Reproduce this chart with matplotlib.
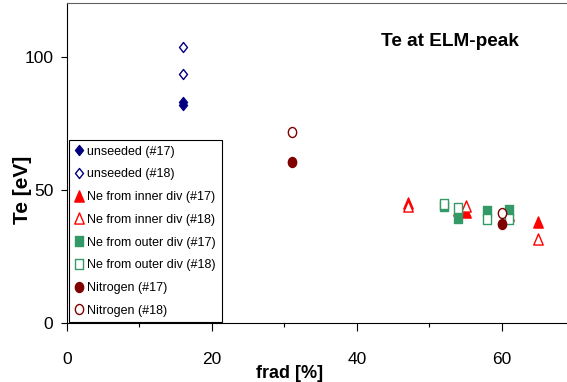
import matplotlib
matplotlib.use("Agg")
import matplotlib.pyplot as plt
from matplotlib.path import Path
from matplotlib.transforms import Affine2D
from matplotlib.ticker import MultipleLocator

plt.rcParams["font.family"] = ["Liberation Sans", "DejaVu Sans"]

# radiated fraction [%] and Te at ELM peak [eV] per seeding case
unseeded_17_x = [16, 16]
unseeded_17_y = [83, 82]
unseeded_18_x = [16, 16]
unseeded_18_y = [103.5, 93.5]

ne_inner_17_x = [47, 54, 55, 61, 65]
ne_inner_17_y = [45, 42.5, 41.8, 40.5, 38]
ne_inner_18_x = [47, 55, 65]
ne_inner_18_y = [44, 44, 31.7]

ne_outer_17_x = [52, 54, 58, 61]
ne_outer_17_y = [44, 39.6, 42.1, 42.5]
ne_outer_18_x = [52, 54, 58, 61]
ne_outer_18_y = [44.8, 43.1, 39, 39]

nitrogen_17_x = [31, 60]
nitrogen_17_y = [60.5, 37.1]
nitrogen_18_x = [31, 60]
nitrogen_18_y = [71.7, 41.2]

# slightly tall marker shapes
diamond = Path([(0, 1), (0.8, 0), (0, -1), (-0.8, 0), (0, 1)],
               [Path.MOVETO, Path.LINETO, Path.LINETO, Path.LINETO, Path.CLOSEPOLY])
triangle = Path([(0, 1), (0.85, -1), (-0.85, -1), (0, 1)],
                [Path.MOVETO, Path.LINETO, Path.LINETO, Path.CLOSEPOLY])
square = Path([(-0.78, -1), (0.78, -1), (0.78, 1), (-0.78, 1), (-0.78, -1)],
              [Path.MOVETO, Path.LINETO, Path.LINETO, Path.LINETO, Path.CLOSEPOLY])
ellipse = Path.unit_circle().transformed(Affine2D().scale(0.83, 1.0))

NAVY = "#000080"
RED = "#FF0000"
GREEN = "#339966"
MAROON = "#800000"

series = [
    (unseeded_17_x, unseeded_17_y, "unseeded (#17)", diamond, 7.2, NAVY, NAVY),
    (unseeded_18_x, unseeded_18_y, "unseeded (#18)", diamond, 7.2, "white", NAVY),
    (ne_inner_17_x, ne_inner_17_y, "Ne from inner div (#17)", triangle, 8, RED, RED),
    (ne_inner_18_x, ne_inner_18_y, "Ne from inner div (#18)", triangle, 8, "white", RED),
    (ne_outer_17_x, ne_outer_17_y, "Ne from outer div (#17)", square, 7.5, GREEN, GREEN),
    (ne_outer_18_x, ne_outer_18_y, "Ne from outer div (#18)", square, 7.5, "white", GREEN),
    (nitrogen_17_x, nitrogen_17_y, "Nitrogen (#17)", ellipse, 7.2, MAROON, MAROON),
    (nitrogen_18_x, nitrogen_18_y, "Nitrogen (#18)", ellipse, 7.2, "white", MAROON),
]

fig = plt.figure(figsize=(5.67, 3.82), dpi=100)
ax = fig.add_axes([0.1178, 0.1537, 0.895, 0.8377])

for xs, ys, label, marker, ms, face, edge in series:
    ax.plot(xs, ys, linestyle="none", marker=marker, markersize=ms,
            markerfacecolor=face, markeredgecolor=edge, markeredgewidth=1.0,
            label=label)

ax.set_xlim(0, 70)
ax.set_ylim(0, 120)
ax.xaxis.set_major_locator(MultipleLocator(20))
ax.xaxis.set_minor_locator(MultipleLocator(10))
ax.set_yticks([0, 50, 100])

ax.tick_params(axis="x", which="major", direction="out", length=5.8, width=0.8,
               pad=15, labelsize=12.5)
ax.tick_params(axis="x", which="minor", direction="out", length=3.2, width=0.8)
ax.tick_params(axis="y", direction="out", length=4.3, width=0.8, pad=5.5,
               labelsize=12.5)

for side in ["left", "bottom", "top", "right"]:
    ax.spines[side].set_linewidth(0.8)
    ax.spines[side].set_color("black")
ax.spines["top"].set_color("#606060")

leg = ax.legend(loc="upper left", bbox_to_anchor=(0.005, 0.573),
                borderaxespad=0, fontsize=9.0, frameon=True, fancybox=False,
                edgecolor="black", framealpha=1, numpoints=1,
                handlelength=0.7, handletextpad=0.3, borderpad=0.45,
                labelspacing=0.86)
leg.get_frame().set_linewidth(0.8)

fig.text(450.3 / 567, 1 - 41.7 / 382, "Te at ELM-peak", ha="center",
         va="center", fontsize=13.7, fontweight="bold")
fig.text(289.5 / 567, 1 - 373 / 382, "frad [%]", ha="center", va="center",
         fontsize=13, fontweight="bold")
fig.text(22 / 567, 1 - 190 / 382, "Te [eV]", ha="center", va="center",
         rotation=90, fontsize=15, fontweight="bold")

fig.savefig("out.png", dpi=100)
